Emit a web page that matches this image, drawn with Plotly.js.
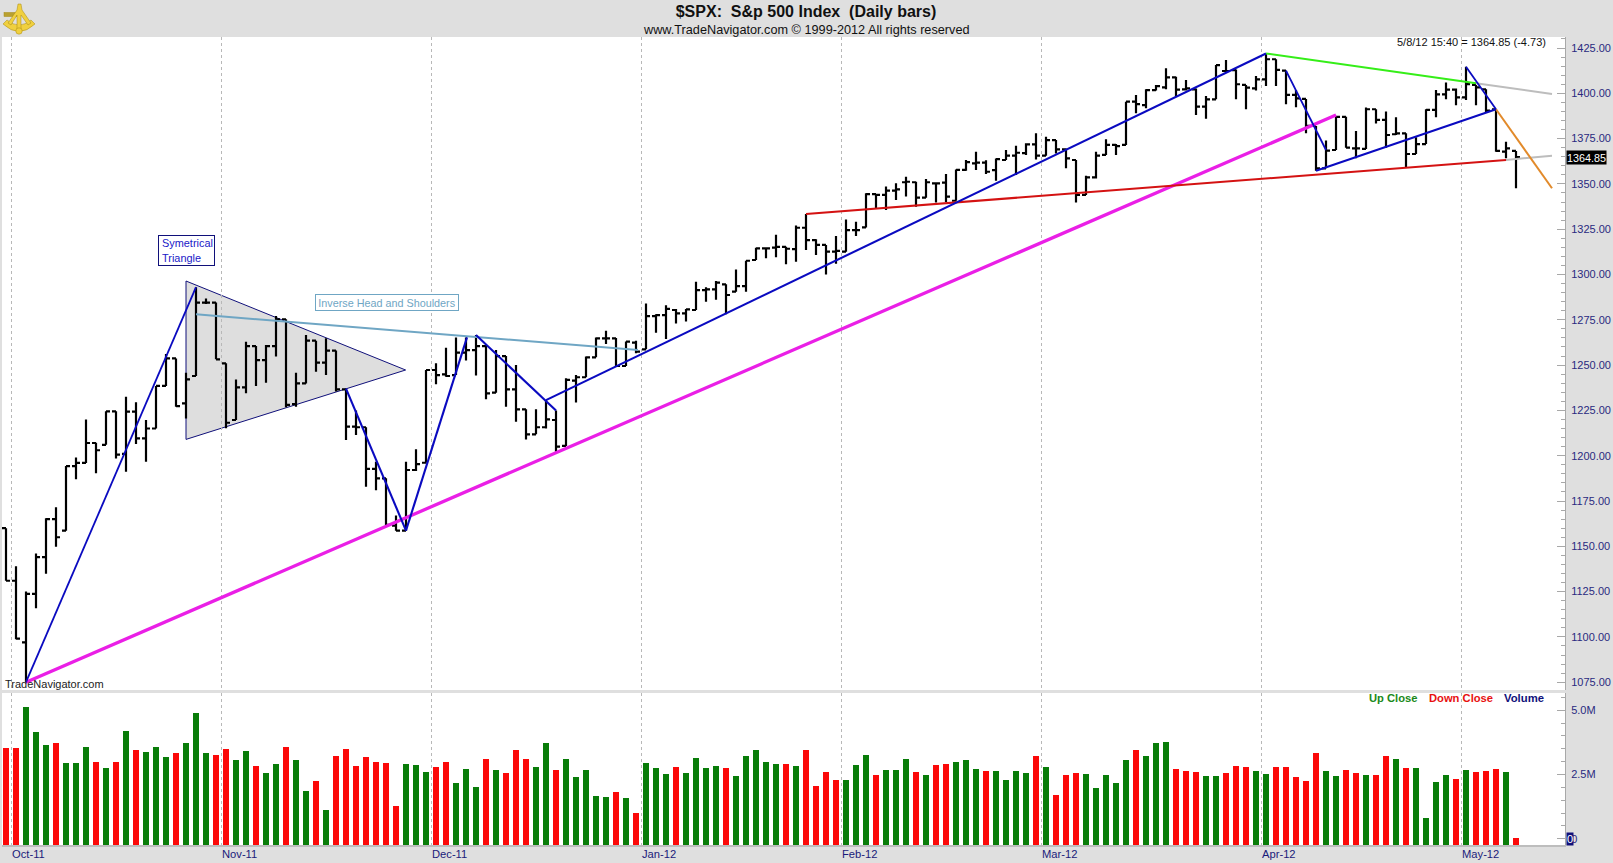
<!DOCTYPE html>
<html><head><meta charset="utf-8">
<script src="https://cdn.plot.ly/plotly-3.0.1.min.js"></script>
<style>html,body{margin:0;padding:0;background:#dfdfdf;overflow:hidden}#chart{width:1613px;height:863px}</style>
</head><body><div id="chart"></div>
<script>
const opens=[1160,1131,1097,1123.7,1144,1165,1158.6,1194.3,1196,1207,1206,1224.5,1201,1224.3,1209.6,1215,1238.5,1253.7,1228.9,1244,1284.5,1284.5,1251,1219.7,1237.7,1260.5,1252.8,1260.5,1275.3,1228.5,1239.9,1263.5,1251.4,1258,1236.6,1216,1215.7,1192.7,1187.5,1161.4,1158.6,1192.1,1196.1,1247.3,1244.9,1244.5,1256.9,1258.3,1260.5,1234.8,1255,1236.6,1225.6,1211.8,1215.7,1219.7,1205.4,1241.4,1243.3,1254.3,1264.8,1264.8,1249.5,1262.4,1258.7,1277,1277.6,1280.4,1278.5,1280.4,1291.4,1291.8,1294.6,1290.5,1293.6,1308,1314.4,1314.8,1315.3,1314,1325.8,1319,1316.3,1312.6,1312.6,1324.5,1326,1344.4,1343.9,1346.3,1350.9,1350.9,1342.4,1350.3,1350.7,1340.7,1357.7,1361.3,1361.7,1357.6,1363.2,1365.6,1367,1371.8,1365.6,1374.2,1369,1363.2,1343.9,1353.6,1366,1371.5,1371.5,1395.4,1393.5,1401.8,1403.3,1408.8,1402.2,1402.2,1392.6,1396.7,1412.3,1412.8,1404.6,1402.7,1407.7,1418.8,1412.5,1399.1,1396.9,1382,1358.6,1368.7,1387,1369.6,1369.3,1391.2,1385.3,1377.4,1377.9,1366.5,1372,1390.8,1399.4,1402,1397.8,1404.6,1402.2,1391.2,1367.8,1368.2];
const highs=[1160,1139,1125,1146,1165.5,1171.5,1194.3,1199,1220,1207.2,1224.5,1224.5,1232.6,1229.5,1219.7,1238.5,1256.1,1253.7,1245.8,1292.9,1286.8,1284.5,1251,1242.1,1262.9,1260.5,1261.1,1277.1,1275.3,1245.8,1266.6,1263.5,1264.8,1258,1236.6,1224.9,1215.7,1196.7,1187.5,1167,1196.7,1203.5,1247.3,1251,1259.6,1265.3,1265.3,1266.6,1260.5,1258.3,1255,1250,1225.6,1225.6,1230.7,1224.9,1242.7,1244.5,1254.7,1265.3,1269,1265,1263,1263.5,1284,1278,1283,1281,1281,1296,1293,1296.4,1294.6,1302.8,1307.6,1314.8,1314.8,1322,1315.3,1327.1,1333.4,1319.4,1316.3,1321.2,1330.4,1329.1,1344.8,1344.4,1348.5,1350.3,1354,1351.2,1352.7,1350.7,1355.5,1358,1363.2,1367.8,1363,1364,1368.7,1371,1372.4,1377.9,1376,1374.2,1369.6,1363.2,1354.5,1367.8,1374.6,1372,1395.4,1399,1402.2,1404.6,1413.8,1409.2,1407.4,1402.7,1398.5,1415.6,1418.4,1413.2,1404.6,1409.6,1421.7,1418.8,1412.5,1401.8,1396.9,1382,1373.9,1387.5,1387,1379.2,1392.1,1391.2,1389.9,1386.8,1377.9,1375.7,1391.2,1401.8,1405.9,1402.7,1414.7,1404.6,1402.2,1391.2,1373.3,1368.2];
const lows=[1131,1098.7,1075,1115.8,1134.8,1149.8,1158.6,1187,1196,1190.3,1206,1198.4,1191.2,1206.5,1196.7,1215,1238.5,1227,1220.6,1244,1283.7,1253.2,1215.1,1219.7,1234.4,1238.5,1240.3,1254.7,1226.7,1227,1239.9,1246.4,1244.5,1235.4,1208.7,1211.4,1182.9,1181,1161.8,1158.6,1158.6,1191.6,1196.1,1239.4,1243.6,1244.5,1252.5,1244.2,1231.1,1234.8,1227,1218.8,1209,1211.8,1215,1202.2,1205.4,1229.3,1243.3,1254.3,1261.6,1249,1249.5,1256.5,1258.7,1267.9,1264.4,1273,1274,1280.4,1285,1286,1278,1290.5,1290.5,1308,1309,1309.5,1305.6,1307,1313.5,1310.8,1300,1306,1312.6,1321.2,1326,1336.5,1335.6,1341.1,1343,1337.4,1342.4,1339.8,1340,1340.7,1357.3,1357.7,1355.4,1351.8,1363.2,1354.9,1365.9,1363.5,1365.6,1366.8,1358.6,1339.8,1343.9,1353,1366,1366,1371.5,1389,1391.7,1401.5,1402.2,1398.2,1401.5,1388,1386,1396.7,1412,1396.7,1391.2,1401.5,1404,1404,1393.9,1392.3,1377.9,1357.3,1358.6,1368.7,1370,1364.1,1369.3,1383.4,1370,1377,1359,1366.5,1372,1386.8,1396.7,1393.4,1396.3,1393.4,1389.3,1367.8,1364.1,1347.6];
const closes=[1131,1099,1123.7,1144,1165,1155,1194.3,1196,1207,1203,1224.5,1200.6,1224.3,1209.6,1215,1238.5,1253.7,1227.4,1242.1,1284.5,1284.5,1253.2,1218.2,1237.7,1260.5,1252.8,1260.5,1275.3,1228,1239.9,1263.5,1251.4,1258,1236.6,1216,1215.7,1192.7,1187.5,1161.8,1158.7,1192.1,1195.4,1247.3,1244.5,1244,1256.9,1258.3,1260.5,1234.4,1255,1236.6,1225.6,1211.8,1215.7,1220,1205,1241.8,1243.3,1254.3,1264.8,1264.8,1249.5,1263,1257.4,1277,1277.6,1281,1278.5,1280.8,1291.4,1291.8,1295.5,1288.7,1293.6,1307.6,1314.4,1314.4,1315.3,1314.2,1325.8,1319,1316.3,1312.6,1313,1324.5,1324.5,1344.4,1343.9,1346.3,1347,1351.2,1342.4,1350.9,1350.3,1343,1357.7,1362,1361.7,1356.7,1363.7,1365.6,1367.2,1371.8,1365.6,1374.2,1369,1364.1,1343.9,1353.6,1365.6,1371.5,1370.9,1395.4,1394,1401.8,1404,1408.8,1402,1402.7,1392.6,1396.7,1415.6,1412.3,1405,1403.1,1407.7,1418.8,1412.9,1399.1,1397.2,1382,1358.6,1368.4,1387,1370,1369.6,1391.2,1385.3,1377,1377.9,1366.5,1372,1390.8,1399.4,1402,1397.8,1405.1,1403.3,1390.4,1368.2,1369.6,1364.85];
const volumeM=[3.53,3.53,5.12,4.15,3.64,3.72,2.94,2.94,3.57,2.98,2.75,2.98,4.19,3.45,3.37,3.57,3.18,3.33,3.72,4.89,3.33,3.26,3.49,3.06,3.41,2.83,2.55,2.9,3.57,3.06,1.85,2.24,1.11,3.22,3.49,2.83,3.18,2.98,2.94,1.27,2.9,2.87,2.59,2.79,2.98,2.17,2.71,2.01,3.1,2.67,2.55,3.45,3.1,2.79,
3.72,2.67,3.1,2.4,2.67,1.66,1.62,1.81,1.58,1.0,2.94,2.75,2.52,2.79,2.55,3.14,2.75,2.83,2.75,2.44,3.22,3.45,2.98,2.9,2.9,2.83,3.45,2.05,2.59,2.28,2.28,2.87,3.26,2.48,2.67,2.67,3.1,2.59,2.48,2.87,2.9,2.98,3.06,2.71,2.63,2.63,2.28,2.63,2.55,3.22,2.79,1.7,2.48,2.55,
2.52,1.97,2.48,2.17,3.06,3.45,3.22,3.72,3.76,2.71,2.63,2.59,2.44,2.44,2.55,2.83,2.79,2.63,2.52,2.79,2.79,2.4,2.24,3.33,2.63,2.44,2.67,2.55,2.48,2.48,3.22,3.1,2.75,2.75,0.8,2.2,2.48,2.32,2.67,2.59,2.63,2.71,2.59,0.02];
const volumeDir=("d d g g g d g g g d g d g d g g g d g g g d d g g d g g d g g d g d d d d d d d g g g d d g g g d g d d d g "+
"g d g g g g g d g d g g g d g g g g d g g g g g d g d d d d g g g d g g g d g d d g g g d g g g g d g d d d "+
"g g g g g d g g g d d d g g d d d g g d d d d d g g d d g d d g d g g g g d g d d d g d").split(" ");
const monthLabels=["Oct-11","Nov-11","Dec-11","Jan-12","Feb-12","Mar-12","Apr-12","May-12"];
const monthGrid=[0.5,21.5,42.5,63.5,83.5,103.5,125.5,145.5];
const priceTicks=[1075,1100,1125,1150,1175,1200,1225,1250,1275,1300,1325,1350,1375,1400,1425];
const volumeTicks=[0,2.5,5];
const volumeTickText=["0","2.5M","5.0M"];
const triX=[18,18,39.96], triY=[1296.4,1209,1247.3];
const blueThin=[[[2,19],[1075,1293]],[[34,40],[1237,1158.7]],[[40,46.1],[1158.7,1265.3]],[[47,55],[1266.6,1224.9]],[[54,126],[1230.7,1422]],[[128,132],[1412.5,1368.7]],[[131,149],[1357.3,1391.2]],[[146,149],[1414.7,1391.2]]];
const magentaX=[2,133], magentaY=[1075,1388];
const neckX=[19,63.2], neckY=[1278,1258.3];
const redX=[80,150], redY=[1333.4,1363.2];
const greenX=[126,147], greenY=[1422,1405.5];
const grayA=[[147,154.6],[1405.5,1399.6]];
const grayB=[[150,154.6],[1363.2,1365.6]];
const orangeX=[149,154.6], orangeY=[1391.2,1347.6];

const W=1613,H=863, px=x=>x/W, py=y=>1-y/H;
const idx=opens.map((_,i)=>i);
const base=-0.2414;
const line=(x,y,color,width,name)=>({type:'scatter',mode:'lines',x,y,xaxis:'x',yaxis:'y',line:{color,width},hoverinfo:'skip',showlegend:false,name});
const traces=[
 {type:'ohlc',x:idx,open:opens,high:highs,low:lows,close:closes,tickwidth:0.4,increasing:{line:{color:'#000',width:2.2}},decreasing:{line:{color:'#000',width:2.2}},showlegend:false,name:'$SPX',hoverinfo:'skip'},
 line(grayA[0],grayA[1],'#bdbdbd',2,'ext1'),
 line(grayB[0],grayB[1],'#bdbdbd',2,'ext2'),
 line(magentaX,magentaY,'#ea1fe6',3.3,'support'),
 line(neckX,neckY,'#6fa6c4',2,'neckline'),
 line(redX,redY,'#d41212',2,'red trend'),
 line(greenX,greenY,'#35ee18',2,'green trend'),
 line(orangeX,orangeY,'#e28a2a',2,'orange trend'),
 ...blueThin.map((l,i)=>line(l[0],l[1],'#0a0ac0',i===0||i===5||i===7?1.8:2.1,'blue'+i)),
 {type:'bar',x:idx,y:volumeM.map(v=>v-base),base:base,xaxis:'x2',yaxis:'y2',width:0.6,marker:{color:volumeDir.map(d=>d==='g'?'#087c08':'#fb0808'),line:{width:0}},hoverinfo:'skip',showlegend:false,name:'Volume'}
];
const txt=(x,y,text,o={})=>Object.assign({xref:'paper',yref:'paper',x:px(x),y:py(y),text,showarrow:false,xanchor:'left',yanchor:'middle',font:Object.assign({family:'Liberation Sans, Arial, sans-serif',size:11,color:'#000'},o.font||{})},o.rest||{});
const annos=[
 txt(806,30,'www.TradeNavigator.com © 1999-2012 All rights reserved',{font:{size:12.7,color:'#111'},rest:{xanchor:'center'}}),
 txt(1548,42,'5/8/12 15:40 = 1364.85 (-4.73)',{font:{size:11,color:'#111'},rest:{xanchor:'right'}}),
 txt(3,684,'TradeNavigator.com',{font:{size:11,color:'#222'}}),
 txt(1367,698,'<b>Up Close</b>',{font:{size:11.2,color:'#1a8a1a'}}),
 txt(1427,698,'<b>Down Close</b>',{font:{size:11.2,color:'#e81010'}}),
 txt(1502,698,'<b>Volume</b>',{font:{size:11.3,color:'#10107a'}}),
 txt(1566,157,'1364.85',{font:{size:10.8,color:'#fff'},rest:{bgcolor:'#000',borderpad:0,width:39,height:13}}),
 txt(1566,838.5,'0',{font:{size:11,color:'#fff'},rest:{bgcolor:'#10107a',borderpad:0}}),
 txt(186,250.5,'\u00A0Symetrical<br>\u00A0Triangle',{font:{size:10.9,color:'#2020c8'},rest:{xanchor:'center',align:'left',bgcolor:'#fff',bordercolor:'#10107a',borderwidth:1,width:55,height:29,borderpad:0}}),
 txt(386.5,302.5,'Inverse Head and Shoulders',{font:{size:10.8,color:'#6fa6c4'},rest:{xanchor:'center',bgcolor:'#fff',bordercolor:'#6fa6c4',borderwidth:1,width:142,height:15,borderpad:0}}),
 ...monthLabels.map((m,i)=>({xref:'x2',yref:'paper',x:monthGrid[i],y:py(854),text:m,showarrow:false,xanchor:'left',yanchor:'middle',xshift:-1.5,font:{family:'Liberation Sans, Arial, sans-serif',size:11.2,color:'#1a1a7a'}}))
];
const sextant="data:image/svg+xml;utf8,"+encodeURIComponent('<svg xmlns="http://www.w3.org/2000/svg" width="32" height="32" viewBox="0 0 32 32"><g fill="#f0d040" stroke="#a88a10" stroke-width="0.5"><path d="M0 21 Q16 36 32 21 L28 17 Q16 27 4 17Z"/><rect x="1" y="9.5" width="13" height="4" fill="#b8a030"/><path d="M15 1 h3 l1 6 l9 13 l-3 2 l-7 -10 v16 h-4 V12 l-6 10 l-3 -2 l9 -13Z"/><circle cx="16" cy="28" r="3.2"/></g></svg>');
const layout={
 width:W,height:H,autosize:false,margin:{l:0,r:0,t:0,b:0,pad:0},
 paper_bgcolor:'#dfdfdf',plot_bgcolor:'#ffffff',showlegend:false,bargap:0,
 title:{text:'<b>$SPX:\u00A0\u00A0S&p 500 Index\u00A0\u00A0(Daily bars)</b>',x:806/W,xanchor:'center',y:py(11),yanchor:'middle',xref:'paper',yref:'paper',font:{family:'Liberation Sans, Arial, sans-serif',size:16,color:'#111'}},
 xaxis:{domain:[px(2),px(1565)],range:[-0.4,155.9],anchor:'y',rangeslider:{visible:false},tickvals:monthGrid,showticklabels:false,ticks:'',showgrid:true,griddash:'3px,3px',gridcolor:'#b8b8b8',gridwidth:1,zeroline:false,showline:false},
 yaxis:{domain:[py(690),py(37)],range:[1070.7,1431.07],side:'right',anchor:'x',tickmode:'array',tickvals:priceTicks,ticktext:priceTicks.map(v=>v.toFixed(2)),ticks:'inside',ticklen:8,tickcolor:'#a8a8a8',tickfont:{family:'Liberation Sans, Arial, sans-serif',size:11,color:'#2a2a80'},ticklabelstandoff:3,showgrid:false,zeroline:false,showline:true,linecolor:'#a8a8a8',linewidth:1,
  minor:{dtick:5,ticks:'inside',ticklen:4,tickcolor:'#a8a8a8',showgrid:false}},
 xaxis2:{domain:[px(2),px(1565)],range:[-0.4,155.9],anchor:'y2',tickvals:monthGrid,showticklabels:false,ticks:'',showgrid:true,griddash:'3px,3px',gridcolor:'#b8b8b8',gridwidth:1,zeroline:false,showline:true,linecolor:'#bdbdbd',linewidth:2},
 yaxis2:{domain:[py(845),py(693)],range:[base,5.67],side:'right',anchor:'x2',tickmode:'array',tickvals:volumeTicks,ticktext:volumeTickText,ticks:'inside',ticklen:8,tickcolor:'#a8a8a8',tickfont:{family:'Liberation Sans, Arial, sans-serif',size:11,color:'#2a2a80'},ticklabelstandoff:3,showgrid:false,zeroline:false,showline:true,linecolor:'#a8a8a8',linewidth:1,
  minor:{dtick:0.5,tick0:0,ticks:'inside',ticklen:4,tickcolor:'#a8a8a8',showgrid:false}},
 shapes:[{type:'path',xref:'x',yref:'y',layer:'below',path:'M'+triX.map((x,i)=>x+' '+triY[i]).join(' L ')+' Z',fillcolor:'#dedede',line:{color:'#10107a',width:1}}],
 annotations:annos,
 images:[{source:sextant,xref:'paper',yref:'paper',x:px(3),y:py(3),sizex:32/W,sizey:32/H,xanchor:'left',yanchor:'top',layer:'above'}]
};
Plotly.newPlot('chart',traces,layout,{staticPlot:true,displayModeBar:false});
</script></body></html>
